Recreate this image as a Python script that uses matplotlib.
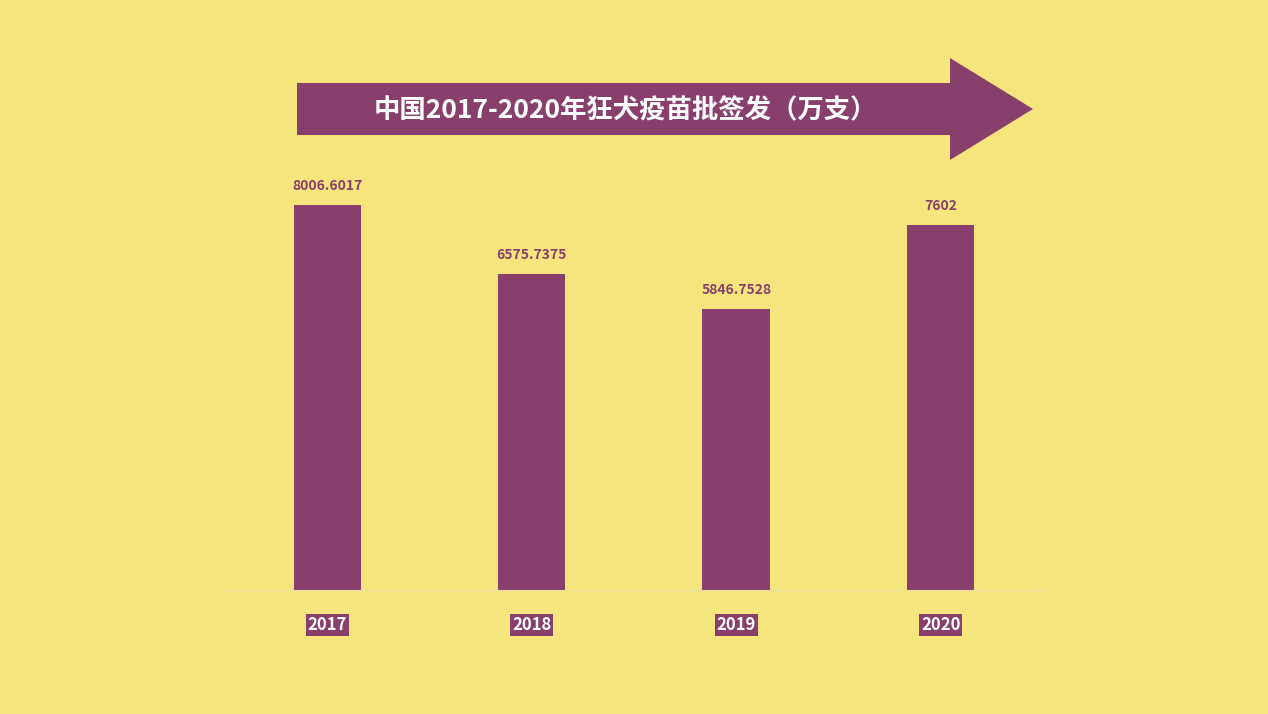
import matplotlib.pyplot as plt
from matplotlib.patches import Polygon

plt.rcParams['font.family'] = ['Noto Sans CJK SC', 'DejaVu Sans']

years = ['2017', '2018', '2019', '2020']
values = [8006.6017, 6575.7375, 5846.7528, 7602]
value_labels = ['8006.6017', '6575.7375', '5846.7528', '7602']

bg = '#F6E57D'
purple = '#883F6C'
W, H = 1268, 714

fig = plt.figure(figsize=(W / 100, H / 100), dpi=100, facecolor=bg)
ax = fig.add_axes([225 / W, 1 - 591 / H, 820 / W, 482 / H])
ax.set_facecolor(bg)
x = list(range(len(years)))
ax.bar(x, values, width=0.33, color=purple)
ax.set_xlim(-0.5, 3.51)
ax.set_ylim(0, 10000)
for xi, v, lab in zip(x, values, value_labels):
    ax.text(xi, v + 250, lab, ha='center', va='bottom', fontsize=10,
            color=purple, fontweight='bold')
for s in ax.spines.values():
    s.set_visible(False)
ax.axhline(0, color='#E8DCA8', lw=1.5)
ax.set_yticks([])
ax.set_xticks(x)
ax.set_xticklabels(years)
ax.tick_params(axis='x', length=0, pad=18)
for t in ax.get_xticklabels():
    t.set_color('white')
    t.set_fontweight('bold')
    t.set_fontsize(12)
    t.set_bbox(dict(facecolor=purple, edgecolor='none', pad=1.5))

# arrow banner
pts = [(297, 83), (950, 83), (950, 58), (1033, 109), (950, 160), (950, 135), (297, 135)]
arrow = Polygon([(px / W, 1 - py / H) for px, py in pts], closed=True,
                transform=fig.transFigure, facecolor=purple, edgecolor='none')
fig.patches.append(arrow)
fig.text(625 / W, 1 - 111 / H, '中国2017-2020年狂犬疫苗批签发（万支）', ha='center',
         va='center', color='white', fontsize=19, fontweight='bold')

fig.savefig('out.png', dpi=100, facecolor=bg)
